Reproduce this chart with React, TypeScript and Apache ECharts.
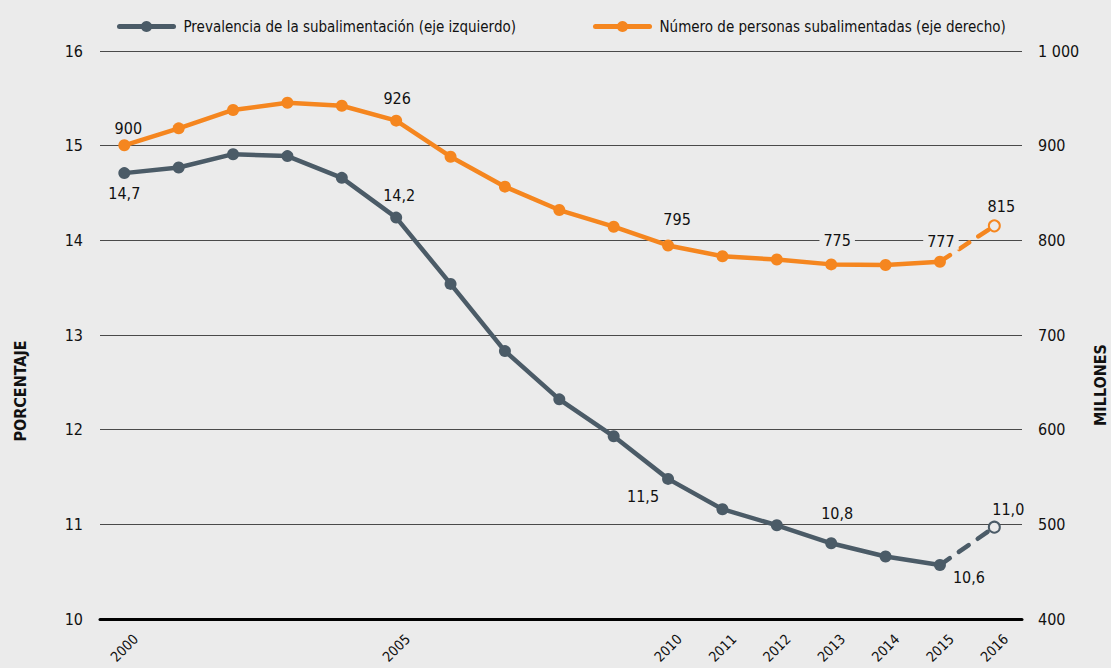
import React, { useEffect, useRef } from "react";
import * as echarts from "echarts";

const years = [2000, 2001, 2002, 2003, 2004, 2005, 2006, 2007, 2008, 2009, 2010, 2011, 2012, 2013, 2014, 2015, 2016];
const prevalence = [14.71, 14.77, 14.91, 14.89, 14.66, 14.24, 13.54, 12.83, 12.32, 11.93, 11.48, 11.16, 10.99, 10.8, 10.66, 10.57, 10.97];
const undernourished = [900.4, 918.3, 937.7, 945.4, 942.2, 926.4, 888.3, 856.7, 832.0, 814.4, 794.6, 783.2, 779.7, 774.6, 774.0, 777.4, 815.3];
const xTickYears = [2000, 2005, 2010, 2011, 2012, 2013, 2014, 2015, 2016];
const prevalenceLabelYears = [2000, 2005, 2010, 2013, 2015, 2016];
const numberLabelYears = [2000, 2005, 2010, 2013, 2015, 2016];
const legendNames = ["Prevalencia de la subalimentación (eje izquierdo)", "Número de personas subalimentadas (eje derecho)"];
const axisNames = ["PORCENTAJE", "MILLONES"];

const BG = "#ebebeb";
const GRAY = "#4b5b67";
const ORANGE = "#f5861f";
const FONT = "'Liberation Sans Narrow', 'DejaVu Sans Condensed', 'Roboto', sans-serif";

// label offsets (style only): [dx, dy] from point centre
const grayOffsets: Record<number, number[]> = {
  2000: [0, 20], 2005: [3, -22], 2010: [-25, 18], 2013: [6, -30], 2015: [29, 12], 2016: [14, -18],
};
const orangeOffsets: Record<number, number[]> = {
  2000: [4, -17], 2005: [1, -22], 2010: [9, -26], 2013: [6, -24], 2015: [1, -20], 2016: [7, -19],
};
const withBg = [2013, 2015];

function labelStyle(offset: number[], text: string, bg: boolean) {
  return {
    show: true,
    position: "inside",
    offset,
    align: "center",
    verticalAlign: "middle",
    formatter: text,
    color: "#111",
    fontSize: 16,
    fontFamily: FONT,
    backgroundColor: bg ? BG : "transparent",
    padding: bg ? [0, 4] : 0,
  };
}

function buildData(values: number[], labelYears: number[], offsets: Record<number, number[]>, fmt: (v: number) => string, bgYears: number[], upto: number) {
  return years.slice(0, upto).map((y, i) => {
    const item: any = { value: [y, values[i]] };
    if (labelYears.includes(y)) {
      item.label = labelStyle(offsets[y], fmt(values[i]), bgYears.includes(y));
    }
    return item;
  });
}

function dashedData(values: number[], color: string, offsets: Record<number, number[]>, fmt: (v: number) => string) {
  const n = years.length;
  return [
    { value: [years[n - 2], values[n - 2]], symbol: "none" },
    {
      value: [years[n - 1], values[n - 1]],
      symbol: "circle",
      symbolSize: 11,
      itemStyle: { color: BG, borderColor: color, borderWidth: 2 },
      label: labelStyle(offsets[years[n - 1]], fmt(values[n - 1]), false),
    },
  ];
}

const fmtPct = (v: number) => v.toFixed(1).replace(".", ",");
const fmtNum = (v: number) => String(Math.round(v));

function legendFor(name: string, left: number) {
  return {
    data: [name],
    left,
    top: 19,
    padding: 0,
    itemWidth: 54,
    itemHeight: 14,
    lineStyle: { width: 5, cap: "round" },
    textStyle: { fontSize: 15, color: "#111", fontFamily: FONT, padding: [0, 0, 0, 5] },
  };
}

export default function App() {
  const ref = useRef<HTMLDivElement>(null);
  useEffect(() => {
    document.body.style.margin = "0";
    const chart = echarts.init(ref.current!, undefined, { renderer: "svg" });
    const n = years.length;
    chart.setOption({
      animation: false,
      backgroundColor: BG,
      textStyle: { fontFamily: FONT },
      grid: { left: 100, right: 89, top: 51, bottom: 49, containLabel: false, outerBoundsMode: "none" },
      legend: [legendFor(legendNames[0], 117), legendFor(legendNames[1], 593)],
      xAxis: {
        type: "value",
        min: 1999.553,
        max: 2016.509,
        axisLine: { show: true, lineStyle: { color: "#000", width: 3 } },
        axisTick: { show: false },
        splitLine: { show: false },
        axisLabel: {
          customValues: xTickYears,
          formatter: (v: number) => String(Math.round(v)),
          rotate: 45,
          align: "center",
          verticalAlign: "middle",
          margin: 29,
          fontSize: 14,
          color: "#111",
          fontFamily: FONT,
        },
      },
      yAxis: [
        {
          type: "value",
          min: 10,
          max: 16,
          interval: 1,
          position: "left",
          axisLine: { show: false },
          axisTick: { show: false },
          splitLine: { show: true, lineStyle: { color: "#4a4a4a", width: 1 } },
          axisLabel: { margin: 17, fontSize: 16, color: "#111", fontFamily: FONT },
        },
        {
          type: "value",
          min: 400,
          max: 1000,
          interval: 100,
          position: "right",
          axisLine: { show: false },
          axisTick: { show: false },
          splitLine: { show: false },
          axisLabel: {
            margin: 16,
            fontSize: 16,
            color: "#111",
            fontFamily: FONT,
            formatter: (v: number) => (v >= 1000 ? String(v).replace(/(\d)(\d{3})$/, "$1 $2") : String(v)),
          },
        },
      ],
      graphic: [
        {
          type: "text",
          x: 20,
          y: 391,
          rotation: Math.PI / 2,
          style: { text: axisNames[0], fontSize: 16, fontWeight: "bold", fill: "#111", fontFamily: FONT, align: "center", verticalAlign: "middle" },
        },
        {
          type: "text",
          x: 1100,
          y: 385,
          rotation: Math.PI / 2,
          style: { text: axisNames[1], fontSize: 16, fontWeight: "bold", fill: "#111", fontFamily: FONT, align: "center", verticalAlign: "middle" },
        },
      ],
      series: [
        {
          name: legendNames[0],
          type: "line",
          yAxisIndex: 0,
          data: buildData(prevalence, prevalenceLabelYears.filter((y) => y !== 2016), grayOffsets, fmtPct, [], n - 1),
          symbol: "circle",
          symbolSize: 12,
          showSymbol: true,
          lineStyle: { color: GRAY, width: 4.5 },
          itemStyle: { color: GRAY },
          z: 3,
        },
        {
          name: "prev-proj",
          type: "line",
          yAxisIndex: 0,
          data: dashedData(prevalence, GRAY, grayOffsets, fmtPct),
          lineStyle: { color: GRAY, width: 4.5, type: [12, 11], cap: "round" },
          itemStyle: { color: GRAY },
          z: 3,
        },
        {
          name: legendNames[1],
          type: "line",
          yAxisIndex: 1,
          data: buildData(undernourished, numberLabelYears.filter((y) => y !== 2016), orangeOffsets, fmtNum, withBg, n - 1),
          symbol: "circle",
          symbolSize: 12,
          showSymbol: true,
          lineStyle: { color: ORANGE, width: 4.5 },
          itemStyle: { color: ORANGE },
          z: 3,
        },
        {
          name: "num-proj",
          type: "line",
          yAxisIndex: 1,
          data: dashedData(undernourished, ORANGE, orangeOffsets, fmtNum),
          lineStyle: { color: ORANGE, width: 4.5, type: [12, 11], cap: "round" },
          itemStyle: { color: ORANGE },
          z: 3,
        },
      ],
    });
    return () => chart.dispose();
  }, []);
  return <div ref={ref} style={{ width: 1111, height: 668, background: BG }} />;
}
